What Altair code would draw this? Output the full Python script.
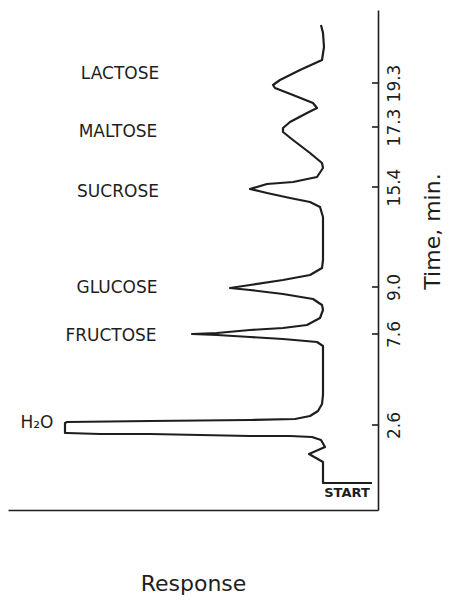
import altair as alt
import pandas as pd

# Chromatogram trace: position along recorder chart (pos) vs detector response (resp)
trace_pos = [5.4, 5.4, 9.6, 11.2, 12.6, 14.0, 14.6, 14.8, 14.8, 15.2, 15.2, 15.4, 15.4, 17.4,
             17.6, 17.8, 18.0, 18.2, 18.8, 19.8, 21.2, 23.0, 30.0, 32.8, 33.6, 34.2, 34.6, 35.0,
             35.2, 35.4, 36.0, 36.4, 37.0, 38.4, 40.0, 41.0, 42.2, 43.2, 44.0, 44.4, 45.0, 46.0,
             47.0, 48.4, 50.0, 58.6, 60.6, 61.6, 62.4, 63.4, 64.2, 65.2, 65.6, 66.6, 68.4, 69.4,
             71.4, 74.0, 75.6, 76.4, 77.6, 79.4, 80.4, 81.4, 83.0, 84.4, 85.0, 86.0, 88.0, 90.0,
             92.6, 95.4, 97.0]
trace_resp = [1.2, 11.0, 11.0, 13.8, 10.6, 11.4, 13.2, 17.6, 25.6, 45.6, 55.6, 62.2, 62.6, 62.6,
              62.2, 45.6, 25.6, 16.6, 13.6, 12.0, 11.2, 11.0, 11.0, 11.0, 12.2, 19.0, 25.6, 32.2,
              37.2, 32.2, 25.6, 19.0, 14.2, 11.6, 11.0, 11.2, 13.0, 19.0, 25.6, 29.6, 25.6, 19.0,
              13.6, 11.2, 11.0, 11.0, 11.6, 13.6, 17.6, 22.2, 25.6, 22.2, 17.0, 12.2, 11.0, 11.2,
              13.6, 17.0, 19.0, 19.0, 17.6, 14.2, 12.2, 13.0, 17.0, 20.6, 21.0, 19.6, 15.6, 11.2,
              10.8, 11.0, 11.4]

# Retention-time ticks (positions on chart paper and their labels)
tick_pos = [17.0, 35.2, 44.6, 64.6, 76.6, 85.4]
tick_labels = ["2.6", "7.6", "9.0", "15.4", "17.3", "19.3"]

# Peak labels
peak_names = ["H\u2082O", "FRUCTOSE", "GLUCOSE", "SUCROSE", "MALTOSE", "LACTOSE"]
peak_label_pos = [17.4, 34.8, 44.4, 63.6, 75.6, 87.2]
peak_label_resp = [68.2, 53.4, 52.2, 52.0, 52.0, 51.6]

start_label = ["START"]
start_pos = [3.4]
start_resp = [6.2]

trace = pd.DataFrame({"i": range(len(trace_pos)), "pos": trace_pos, "resp": trace_resp})
ticks = pd.DataFrame({"pos": tick_pos, "label": tick_labels})
peaks = pd.DataFrame({"pos": peak_label_pos, "resp": peak_label_resp, "name": peak_names})
start = pd.DataFrame({"pos": start_pos, "resp": start_resp, "name": start_label})

xscale = alt.Scale(domain=[0, 74], reverse=True, nice=False, zero=False)
yscale = alt.Scale(domain=[0, 100], nice=False, zero=False)

arr_vals = "[" + ",".join(str(v) for v in tick_pos) + "]"
arr_labs = "[" + ",".join("'" + s + "'" for s in tick_labels) + "]"
label_expr = f"{arr_labs}[indexof({arr_vals}, datum.value)]"

ink = "#1e1e1e"

line = alt.Chart(trace).mark_line(color=ink, strokeWidth=2.2, strokeJoin="round").encode(
    x=alt.X("resp:Q", scale=xscale,
            axis=alt.Axis(orient="bottom", labels=False, ticks=False, grid=False,
                          domainColor=ink, domainWidth=1.6, title="Response",
                          titleFontSize=22, titleFontWeight="normal", titleColor=ink,
                          titlePadding=63)),
    y=alt.Y("pos:Q", scale=yscale,
            axis=alt.Axis(orient="right", values=tick_pos, labelExpr=label_expr,
                          ticks=False, grid=False, domainColor=ink, domainWidth=1.6,
                          labelAngle=270, labelAlign="center", labelBaseline="top",
                          labelFontSize=17, labelColor=ink, labelPadding=8,
                          title="Time, min.", titleAngle=270, titleFontSize=22,
                          titleFontWeight="normal", titleColor=ink, titlePadding=42,
                          titleY=221)),
    order="i:Q",
)

tick_marks = alt.Chart(ticks).mark_rule(color=ink, strokeWidth=1.6).encode(
    y=alt.Y("pos:Q", scale=yscale),
    x=alt.value(364),
    x2=alt.value(370),
)

peak_text = alt.Chart(peaks).mark_text(fontSize=17, color=ink, align="center",
                                       baseline="middle").encode(
    x=alt.X("resp:Q", scale=xscale),
    y=alt.Y("pos:Q", scale=yscale),
    text="name:N",
)

start_text = alt.Chart(start).mark_text(fontSize=13, fontWeight="bold", color=ink,
                                        align="center", baseline="middle").encode(
    x=alt.X("resp:Q", scale=xscale),
    y=alt.Y("pos:Q", scale=yscale),
    text="name:N",
)

chart = alt.layer(line, tick_marks, peak_text, start_text).properties(
    width=370, height=500,
    autosize=alt.AutoSizeParams(type="none"),
    padding={"left": 0, "top": 2, "right": 65, "bottom": 85},
).configure(font="DejaVu Sans").configure_view(stroke=None)

chart.save("out.html", embed_options={"renderer": "svg", "actions": False})
